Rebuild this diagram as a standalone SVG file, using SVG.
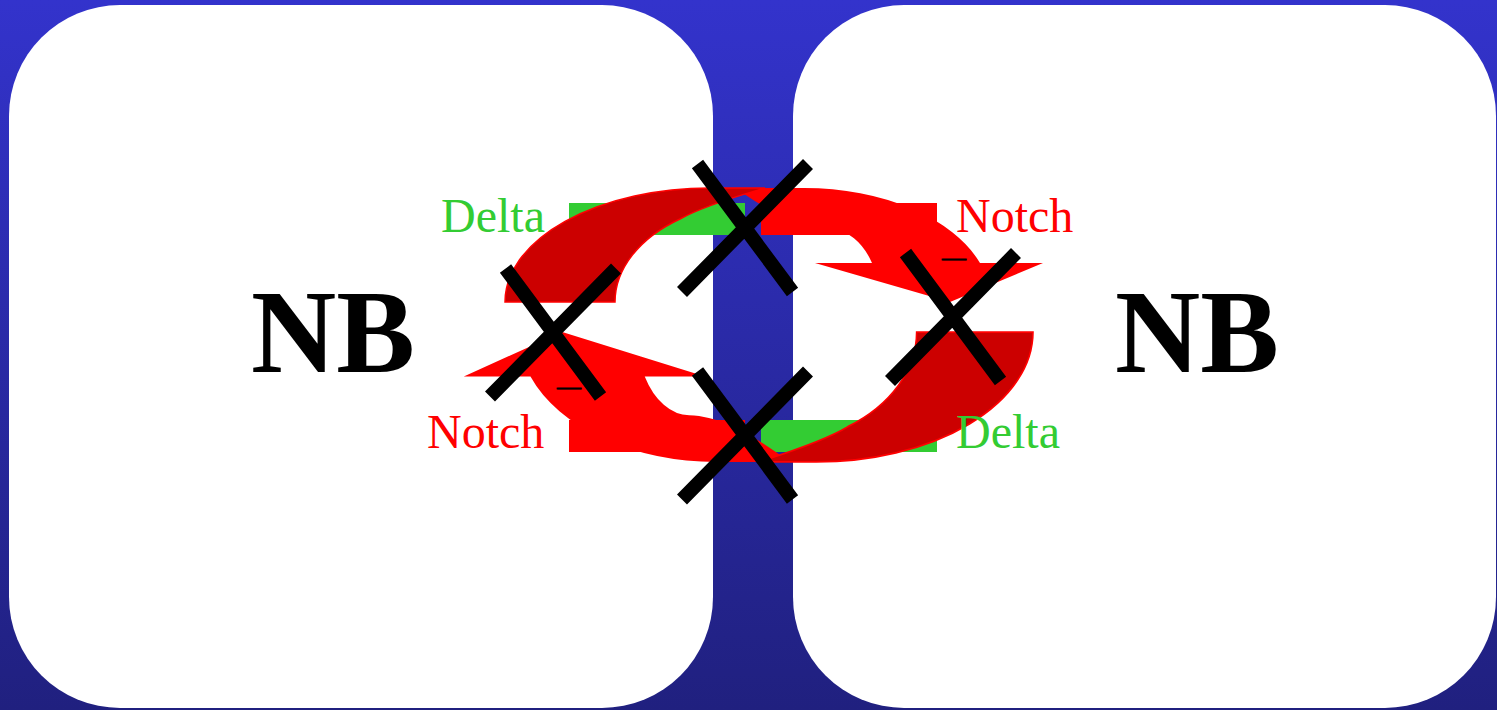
<svg xmlns="http://www.w3.org/2000/svg" width="1497" height="710" viewBox="0 0 1497 710">
<defs>
<linearGradient id="bg" x1="0" y1="0" x2="0" y2="1">
<stop offset="0" stop-color="#3333cc"/>
<stop offset="1" stop-color="#20207f"/>
</linearGradient>
<path id="arrowBright" d="M735,188 L804,188 A187,114 0 0 1 980,263 L1043,263 L950,302 L815,263 L872,263 A50,73 0 0 0 830,229 C795,228 762,206 735,188 Z"/>
<path id="arrowDark" d="M505,302 A205,114 0 0 1 710,188 L765,188 C745,194 705,205 680,219 A150,101 0 0 0 615,302 Z"/>
<path id="xm" d="M-47.5,-64 L47.5,64 M63,-64 L-63,64"/>
</defs>
<style>
.panel{fill:#ffffff}
.nb{font-family:"Liberation Serif","Times New Roman",serif;font-weight:bold;font-size:118px;fill:#000000}
.lbl{font-family:"Liberation Serif","Times New Roman",serif;font-size:48px}
.green{fill:#33cc33}
.red{fill:#ff0000}
.dark{fill:#cc0000;stroke:#ff0000;stroke-width:1.5}
.bright{fill:#ff0000}
.x{stroke:#000000;stroke-width:14;fill:none;stroke-linecap:butt}
.minus{font-family:"Liberation Serif","Times New Roman",serif;font-size:24px;fill:#000000;stroke:#000000;stroke-width:0.8}
</style>
<rect width="1497" height="710" fill="url(#bg)"/>
<g id="cell-left">
<rect class="panel" x="9" y="5" width="704" height="703" rx="111" ry="111"/>
<text class="nb" x="251" y="372">NB</text>
</g>
<g id="cell-right">
<rect class="panel" x="793" y="5" width="703" height="703" rx="111" ry="111"/>
<text class="nb" x="1115" y="372">NB</text>
</g>
<g id="ligand-delta-left">
<rect class="green" x="569" y="203" width="176" height="32"/>
</g>
<g id="receptor-notch-right">
<rect class="red" x="761" y="203" width="176" height="32"/>
</g>
<g id="receptor-notch-left">
<rect class="red" x="569" y="420" width="176" height="32"/>
</g>
<g id="ligand-delta-right">
<rect class="green" x="761" y="420" width="176" height="32"/>
</g>
<g id="connectors">
<g id="arrow-top">
<use href="#arrowBright" class="bright"/>
<use href="#arrowDark" class="dark"/>
</g>
<g id="arrow-bottom" transform="matrix(-1.058 0 0 -1.14 1567.3 676.3)">
<use href="#arrowBright" class="bright"/>
<use href="#arrowDark" class="dark"/>
</g>
<text class="minus" x="942" y="264.5">—</text>
<text class="minus" x="557" y="393.5">—</text>
<g id="crosses">
<use href="#xm" class="x" transform="translate(745,228)"/>
<use href="#xm" class="x" transform="translate(553,332.5)"/>
<use href="#xm" class="x" transform="translate(953,317)"/>
<use href="#xm" class="x" transform="translate(745,435.5)"/>
</g>
</g>
<g id="labels">
<text id="label-delta-left" class="lbl green" x="441" y="232">Delta</text>
<text id="label-notch-right" class="lbl red" x="956" y="232">Notch</text>
<text id="label-notch-left" class="lbl red" x="427" y="448">Notch</text>
<text id="label-delta-right" class="lbl green" x="956" y="448">Delta</text>
</g>
</svg>
